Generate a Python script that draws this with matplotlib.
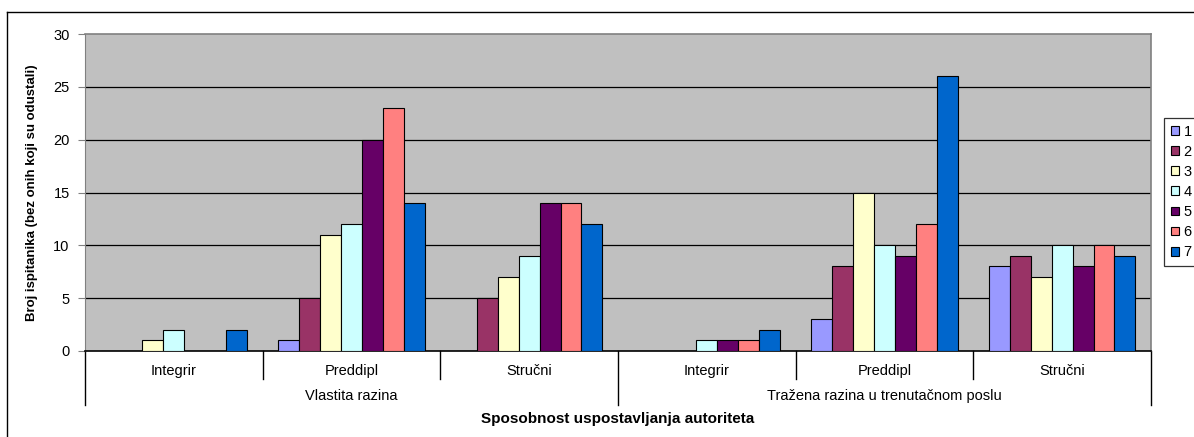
import matplotlib
matplotlib.use("Agg")
import matplotlib.pyplot as plt
from matplotlib.lines import Line2D
from matplotlib.patches import Patch
import numpy as np

plt.rcParams['font.family'] = ['Liberation Sans', 'DejaVu Sans']

groups = ["Vlastita razina", "Tražena razina u trenutačnom poslu"]
subcats = ["Integrir", "Preddipl", "Stručni"]
series_names = ["1", "2", "3", "4", "5", "6", "7"]
colors = ["#9999FF", "#993366", "#FFFFCC", "#CCFFFF", "#660066", "#FF8080", "#0066CC"]

# values per category (rows) for series 1..7 (columns)
vlastita_integrir = [0, 0, 1, 2, 0, 0, 2]
vlastita_preddipl = [1, 5, 11, 12, 20, 23, 14]
vlastita_strucni = [0, 5, 7, 9, 14, 14, 12]
trazena_integrir = [0, 0, 0, 1, 1, 1, 2]
trazena_preddipl = [3, 8, 15, 10, 9, 12, 26]
trazena_strucni = [8, 9, 7, 10, 8, 10, 9]

data = np.array([vlastita_integrir, vlastita_preddipl, vlastita_strucni,
                 trazena_integrir, trazena_preddipl, trazena_strucni])

W, H = 1194, 437
fig = plt.figure(figsize=(W / 100, H / 100), dpi=100)
fig.patch.set_facecolor("white")

L, R, T, B = 85, 1151, 34, 351
ax = fig.add_axes([L / W, 1 - B / H, (R - L) / W, (B - T) / H])
ax.set_facecolor("#C0C0C0")

n_cat = data.shape[0]
n_ser = data.shape[1]
bw = 1 / 8.5
x = np.arange(n_cat) + 0.5
for j in range(n_ser):
    ax.bar(x + (j - 3) * bw, data[:, j], width=bw, color=colors[j],
           edgecolor="black", linewidth=0.8, zorder=3, label=series_names[j])

ax.set_xlim(0, n_cat)
ax.set_ylim(0, 30)
ax.set_yticks(range(0, 31, 5))
ax.set_yticklabels([str(v) for v in range(0, 31, 5)], fontsize=10.5)
ax.tick_params(axis='y', length=5, width=0.8, pad=6, color="#808080")
ax.set_xticks([])
for v in range(5, 30, 5):
    ax.axhline(v, color="black", linewidth=0.9, zorder=1)

for side in ["top", "right"]:
    ax.spines[side].set_color("#808080")
    ax.spines[side].set_linewidth(1.2)
ax.spines["left"].set_color("#808080")
ax.spines["bottom"].set_color("black")
ax.spines["bottom"].set_linewidth(1.2)

# multilevel category axis
tr = ax.get_xaxis_transform()
px = 1 / (B - T)
for i, lab in enumerate(subcats * 2):
    ax.text(i + 0.5, -(371 - B) * px, lab, transform=tr, ha="center",
            va="center", fontsize=10.5)
for gi, g in enumerate(groups):
    ax.text(gi * 3 + 1.5, -(396 - B) * px, g, transform=tr, ha="center",
            va="center", fontsize=10.5)
for b in range(n_cat + 1):
    depth = 405 if b % 3 == 0 else 379
    ax.plot([b, b], [0, -(depth - B) * px], transform=tr, color="black",
            linewidth=1.0, clip_on=False)

ax.text(0.5, -(419 - B) * px, "Sposobnost uspostavljanja autoriteta",
        transform=ax.transAxes, ha="center", va="center", fontsize=11,
        fontweight="bold")
ax.set_ylabel("Broj ispitanika (bez onih koji su odustali)", fontsize=9.5,
              fontweight="bold")
ax.yaxis.set_label_coords((38 - L) / (R - L), 0.5)

# legend
handles = [Patch(facecolor=c, edgecolor="black", linewidth=0.8) for c in colors]
leg = fig.legend(handles, series_names, loc="upper left",
                 bbox_to_anchor=(1164 / W, 1 - 118 / H), fontsize=10.5,
                 frameon=True, fancybox=False, handlelength=0.55,
                 handleheight=0.55, handletextpad=0.35, labelspacing=0.42,
                 borderpad=0.45, borderaxespad=0)
leg.get_frame().set_edgecolor("black")
leg.get_frame().set_linewidth(0.9)

# outer chart frame
fig.add_artist(Line2D([7 / W, 7 / W], [0, 1 - 12 / H], transform=fig.transFigure,
                      color="black", linewidth=1.0))
fig.add_artist(Line2D([7 / W, 1], [1 - 12 / H, 1 - 12 / H], transform=fig.transFigure,
                      color="black", linewidth=1.0))

fig.savefig("out.png", dpi=100)
